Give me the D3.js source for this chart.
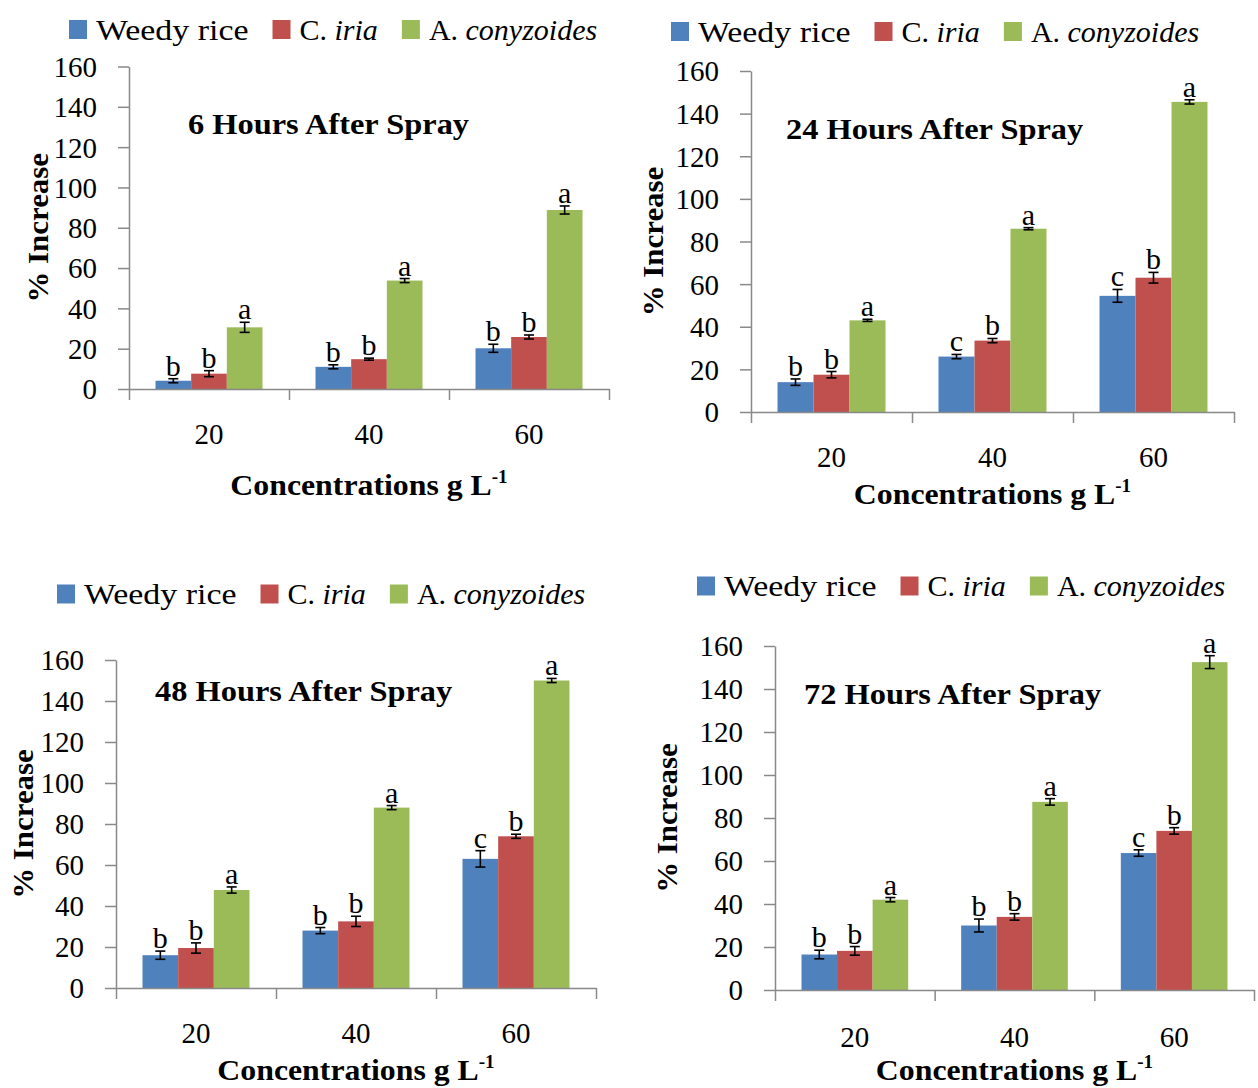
<!DOCTYPE html>
<html>
<head>
<meta charset="utf-8">
<script src="https://cdn.jsdelivr.net/npm/d3@7"></script>
<style>
  body { margin: 0; background: #fff; }
  svg { display: block; font-family: 'Liberation Serif', 'Times New Roman', serif; }
  .axis path, .axis line { stroke: #898989; stroke-width: 1.5; }
  .axis text { fill: #000; font-family: 'Liberation Serif', 'Times New Roman', serif; }
</style>
</head>
<body>
<svg width="1258" height="1088"></svg>
<script>
// categories and series
const categories = ['20', '40', '60'];
const seriesNames = ['Weedy rice', 'C. iria', 'A. conyzoides'];
const colors = ['#4F81BD', '#C0504D', '#9BBB59'];
const yTicks = [0, 20, 40, 60, 80, 100, 120, 140, 160];

// 6 hours
const h6Weedy = [4.1, 11, 20.2];
const h6Iria = [7.6, 14.8, 25.8];
const h6Agera = [30.6, 53.8, 88.8];
const h6WeedyErr = [1, 1, 2];
const h6IriaErr = [1.5, 0.5, 1];
const h6AgeraErr = [2.5, 1, 2];
const h6Letters = [['b', 'b', 'b'], ['b', 'b', 'b'], ['a', 'a', 'a']];

// 24 hours
const h24Weedy = [14, 26, 54.5];
const h24Iria = [17.5, 33.5, 63];
const h24Agera = [43, 86, 145.5];
const h24WeedyErr = [1.5, 1, 3];
const h24IriaErr = [1.5, 1, 2.5];
const h24AgeraErr = [0.5, 0.5, 1];
const h24Letters = [['b', 'c', 'c'], ['b', 'b', 'b'], ['a', 'a', 'a']];

// 48 hours
const h48Weedy = [16, 28, 63];
const h48Iria = [19.5, 32.5, 74];
const h48Agera = [47.8, 88, 150];
const h48WeedyErr = [2, 1.5, 4];
const h48IriaErr = [2.5, 2.5, 1];
const h48AgeraErr = [1.5, 1, 1];
const h48Letters = [['b', 'b', 'c'], ['b', 'b', 'b'], ['a', 'a', 'a']];

// 72 hours
const h72Weedy = [16.5, 30, 63.7];
const h72Iria = [18.2, 34, 74];
const h72Agera = [42, 87.5, 152.5];
const h72WeedyErr = [2, 3, 1.5];
const h72IriaErr = [2, 1.5, 1.5];
const h72AgeraErr = [1, 1.5, 3];
const h72Letters = [['b', 'b', 'c'], ['b', 'b', 'b'], ['a', 'a', 'a']];

// panel layout (pixels)
const panels = [
  { title: '6 Hours After Spray', values: [h6Weedy, h6Iria, h6Agera], errs: [h6WeedyErr, h6IriaErr, h6AgeraErr], letters: h6Letters,
    x0: 129, x1: 609, y0: 389, yTop: 66.5, titleX: 188, titleY: 134, legX: 69, legY: 29.5, yLabX: 38, xLabY: 444, xTitleY: 495 },
  { title: '24 Hours After Spray', values: [h24Weedy, h24Iria, h24Agera], errs: [h24WeedyErr, h24IriaErr, h24AgeraErr], letters: h24Letters,
    x0: 751, x1: 1234, y0: 412, yTop: 71, titleX: 786, titleY: 139, legX: 671, legY: 31.5, yLabX: 653, xLabY: 467, xTitleY: 504 },
  { title: '48 Hours After Spray', values: [h48Weedy, h48Iria, h48Agera], errs: [h48WeedyErr, h48IriaErr, h48AgeraErr], letters: h48Letters,
    x0: 116, x1: 596, y0: 988, yTop: 660, titleX: 155, titleY: 701, legX: 57, legY: 594, yLabX: 23, xLabY: 1043, xTitleY: 1080 },
  { title: '72 Hours After Spray', values: [h72Weedy, h72Iria, h72Agera], errs: [h72WeedyErr, h72IriaErr, h72AgeraErr], letters: h72Letters,
    x0: 775, x1: 1254, y0: 990, yTop: 646, titleX: 804, titleY: 704, legX: 697, legY: 586, yLabX: 667, xLabY: 1047, xTitleY: 1080 }
];

const svg = d3.select('svg');

// place text with a little horizontal stretch (the original face is wider)
function place(sel, x, y, sx) {
  return sel.attr('transform', `translate(${x},${y}) scale(${sx},1)`);
}

panels.forEach(p => {
  const g = svg.append('g');

  const y = d3.scaleLinear().domain([0, 160]).range([p.y0, p.yTop]);
  const x = d3.scaleBand().domain(categories).range([p.x0, p.x1]);
  const xs = d3.scaleBand().domain(seriesNames)
    .range([26.5, x.bandwidth() - 26.5]);
  const xEdge = d3.scaleLinear().domain([0, categories.length]).range([p.x0, p.x1]);

  // bars
  const rows = [];
  seriesNames.forEach((s, si) => {
    categories.forEach((c, ci) => {
      rows.push({ s: s, si: si, c: c, v: p.values[si][ci], e: p.errs[si][ci], l: p.letters[si][ci] });
    });
  });

  g.selectAll('rect.bar')
    .data(rows)
    .enter()
    .append('rect')
    .attr('class', 'bar')
    .attr('x', d => x(d.c) + xs(d.s))
    .attr('width', xs.bandwidth())
    .attr('y', d => y(d.v))
    .attr('height', d => y(0) - y(d.v))
    .attr('fill', d => colors[d.si]);

  // y axis
  const yAxis = d3.axisLeft(y).tickValues(yTicks).tickSize(11).tickSizeOuter(0).tickPadding(21);
  const ya = g.append('g').attr('class', 'axis')
    .attr('transform', `translate(${p.x0},0)`)
    .call(yAxis)
    .attr('font-family', null)
    .attr('font-size', null);
  ya.selectAll('text').style('font-size', '29px').attr('dy', '0.34em');

  // x axis: boundary ticks
  g.append('g').attr('class', 'axis')
    .attr('transform', `translate(0,${p.y0})`)
    .call(d3.axisBottom(xEdge).tickValues([0, 1, 2, 3]).tickFormat('').tickSize(11).tickSizeOuter(0));

  // x labels
  g.selectAll('text.xlab')
    .data(categories)
    .enter()
    .append('text')
    .attr('class', 'xlab')
    .attr('x', d => x(d) + x.bandwidth() / 2)
    .attr('y', p.xLabY)
    .attr('text-anchor', 'middle')
    .style('font-size', '29px')
    .text(d => d);

  // error bars
  const eb = g.selectAll('g.err')
    .data(rows)
    .enter()
    .append('g')
    .attr('class', 'err')
    .attr('stroke', '#000')
    .attr('stroke-width', 1.6);
  const cx = d => x(d.c) + xs(d.s) + xs.bandwidth() / 2;
  eb.append('line')
    .attr('x1', cx).attr('x2', cx)
    .attr('y1', d => y(d.v - d.e)).attr('y2', d => y(d.v + d.e));
  eb.append('line')
    .attr('x1', d => cx(d) - 5).attr('x2', d => cx(d) + 5)
    .attr('y1', d => y(d.v + d.e)).attr('y2', d => y(d.v + d.e));
  eb.append('line')
    .attr('x1', d => cx(d) - 5).attr('x2', d => cx(d) + 5)
    .attr('y1', d => y(d.v - d.e)).attr('y2', d => y(d.v - d.e));

  // significance letters
  g.selectAll('text.sig')
    .data(rows)
    .enter()
    .append('text')
    .attr('class', 'sig')
    .attr('x', cx)
    .attr('y', d => y(d.v + d.e) - 3)
    .attr('text-anchor', 'middle')
    .style('font-size', '30px')
    .text(d => d.l);

  // title
  place(g.append('text'), p.titleX, p.titleY, 1.08)
    .style('font-size', '30px')
    .style('font-weight', 'bold')
    .text(p.title);

  // y label
  g.append('text')
    .attr('transform', `translate(${p.yLabX + 10},${(p.y0 + p.yTop) / 2}) rotate(-90) scale(1.03,1)`)
    .attr('text-anchor', 'middle')
    .style('font-size', '30px')
    .style('font-weight', 'bold')
    .text('% Increase');

  // x title
  const xt = place(g.append('text'), (p.x0 + p.x1) / 2, p.xTitleY, 1.06)
    .attr('text-anchor', 'middle')
    .style('font-size', '30px')
    .style('font-weight', 'bold');
  xt.append('tspan').text('Concentrations g L');
  xt.append('tspan').attr('dy', -12).style('font-size', '18px').text('-1');

  // legend (only the upright name is stretched; italic names already match)
  let lx = p.legX;
  seriesNames.forEach((s, si) => {
    const sx = si === 0 ? 1.13 : 1;
    g.append('rect')
      .attr('x', lx).attr('y', p.legY - 9.5)
      .attr('width', 18).attr('height', 19)
      .attr('fill', colors[si]);
    const t = place(g.append('text'), lx + 27, p.legY + 10, sx)
      .style('font-size', '30px');
    if (si === 0) {
      t.text(s);
    } else {
      const parts = s.split(' ');
      t.append('tspan').text(parts[0] + ' ');
      t.append('tspan').style('font-style', 'italic').text(parts[1]);
    }
    lx += 27 + t.node().getComputedTextLength() * sx + 24;
  });
});
</script>
</body>
</html>
